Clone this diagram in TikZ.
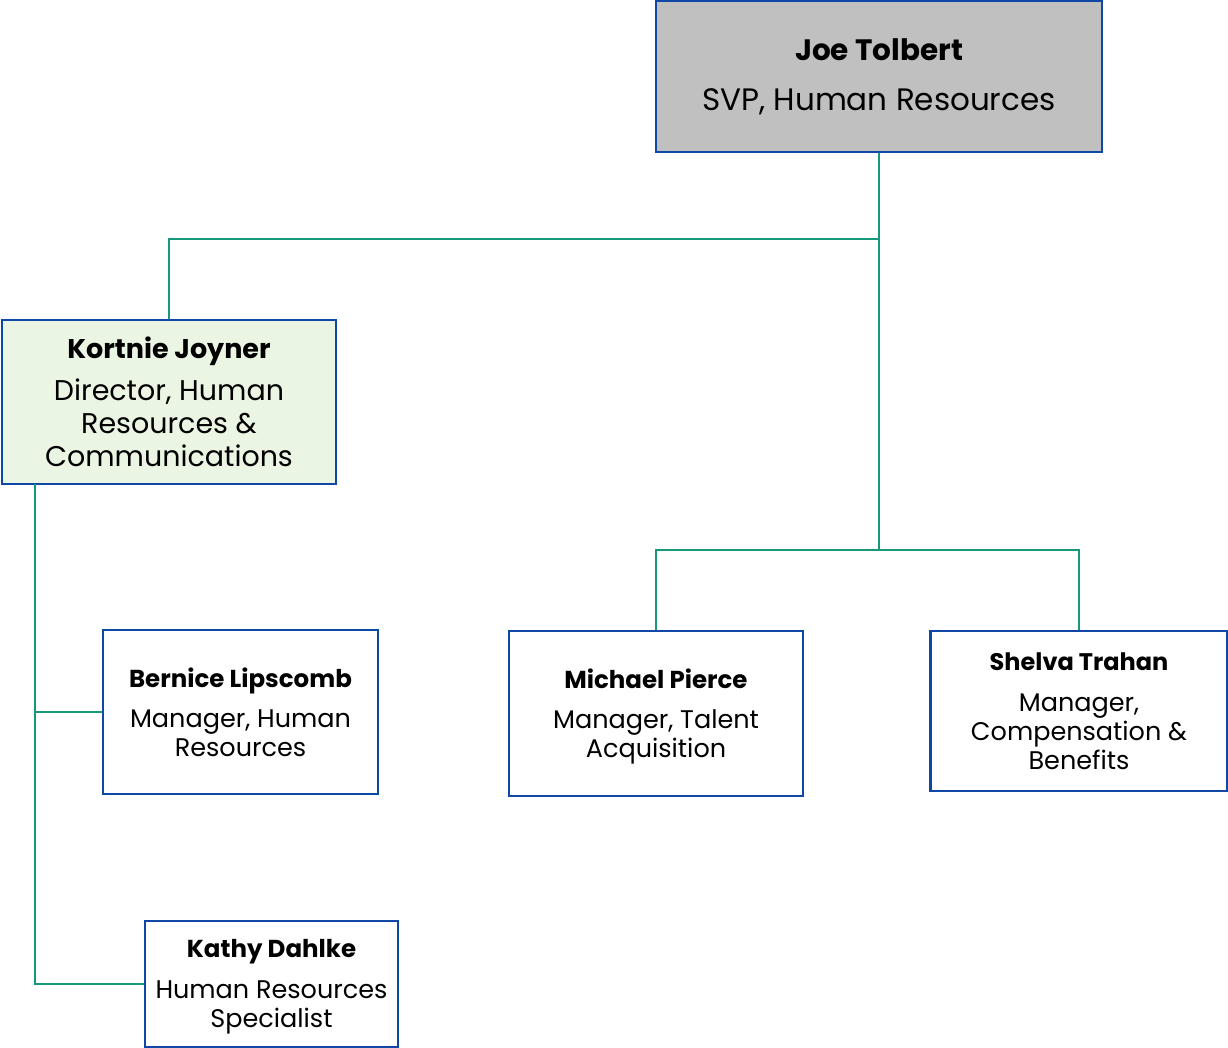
\documentclass[tikz,border=0pt]{standalone}
\usepackage{fontspec}
\setmainfont{Poppins}
\definecolor{bordblue}{HTML}{0F47A6}
\definecolor{linkteal}{HTML}{16997A}
\definecolor{boxgray}{HTML}{C0C0C0}
\definecolor{boxgreen}{HTML}{EAF6E3}
\newcommand{\nmline}[2]{{\fontsize{#1}{#1}\selectfont\bfseries #2}}
\begin{document}
\begin{tikzpicture}[x=1pt,y=-1pt,
  box/.style={draw=bordblue,line width=2.8pt,align=center,inner sep=0pt,text=black},
  link/.style={draw=linkteal,line width=2.8pt},
  mgr/.style={box,fill=white,font={\fontsize{25.5}{29}\selectfont}},
  mgrtext/.style={align=center,inner sep=0pt,text=black,font={\fontsize{25.5}{29}\selectfont}}]
\useasboundingbox (0,0) rectangle (1228,1048);
\node[box,fill=boxgray,minimum width=446,minimum height=151,font={\fontsize{31}{37}\selectfont}] (joe) at (879,76.5)
  {\nmline{29.5}{Joe Tolbert}\\[13pt]SVP, Human Resources};
\node[box,fill=boxgreen,minimum width=334,minimum height=164,font={\fontsize{28.5}{33}\selectfont}] (kort) at (169,402)
  {\nmline{27}{Kortnie Joyner}\\[9pt]Director, Human\\Resources \&\\Communications};
\node[mgr,minimum width=275,minimum height=164] (bern) at (240.5,712)
  {\nmline{24.5}{Bernice Lipscomb}\\[11pt]Manager, Human\\Resources};
\node[mgr,minimum width=294,minimum height=165] (mich) at (656,713.5) {};
\node[mgrtext] (michT) at (656,716.5)
  {\nmline{24.5}{Michael Pierce}\\[11pt]Manager, Talent\\Acquisition};
\node[mgr,minimum width=297,minimum height=160] (shel) at (1079,711)
  {\nmline{24}{Shelva Trahan}\\[12pt]Manager,\\Compensation \&\\Benefits};
\node[mgr,minimum width=253,minimum height=126] (kath) at (271.5,984) {};
\node[mgrtext] (kathT) at (271.5,987)
  {\nmline{24.5}{Kathy Dahlke}\\[12pt]Human Resources\\Specialist};
\coordinate (j1) at (879,239);
\coordinate (j2) at (879,550);
\coordinate (k0) at (35,484);
\coordinate (kb) at (35,712);
\draw[link] (joe.south) -- (j1) -| (kort.north);
\draw[link] (j1) -- (j2);
\draw[link] (j2) -| (mich.north);
\draw[link] (j2) -| (shel.north);
\draw[link] (k0) |- (kath.west);
\draw[link] (kb) -- (bern.west);
\end{tikzpicture}
\end{document}
